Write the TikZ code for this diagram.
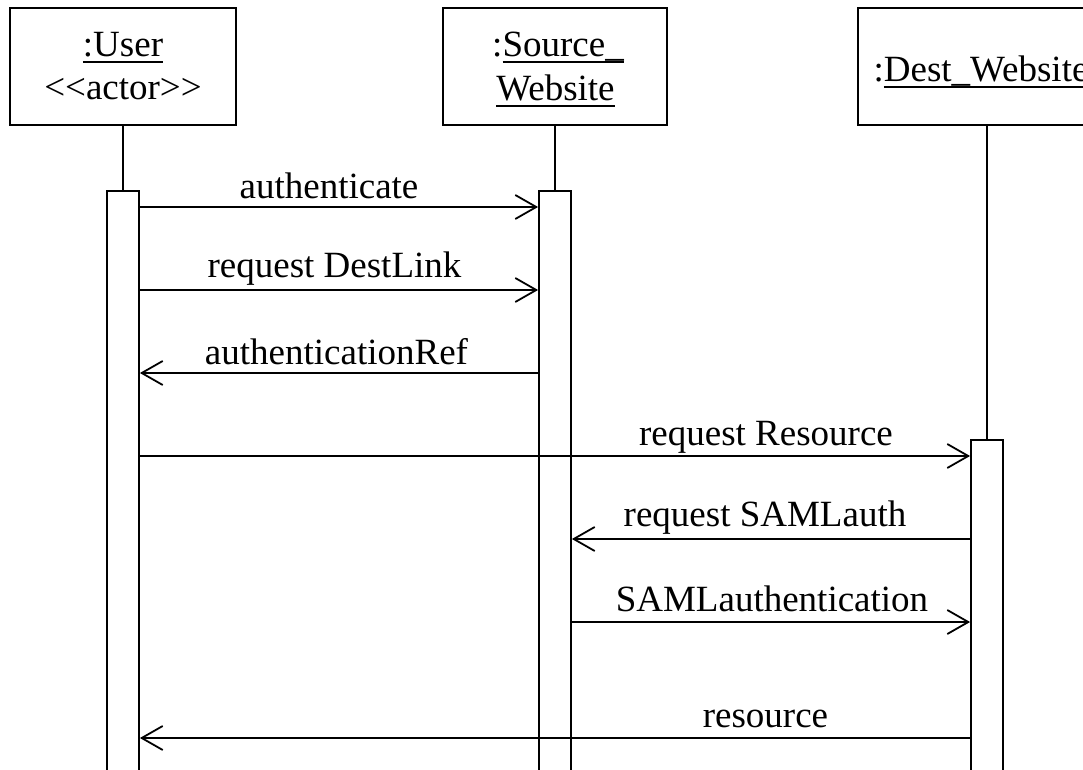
\documentclass[tikz,border=0pt]{standalone}
\usepackage{fontspec}
\setmainfont{Liberation Serif}
\usetikzlibrary{arrows.meta}

% underline drawn as a fixed rule just under the baseline
\newlength\ulwd
\newcommand\ulc[1]{\settowidth\ulwd{#1}\rlap{\rule[-6pt]{\ulwd}{1.9pt}}#1}

\begin{document}
\begin{tikzpicture}[x=1pt,y=-1pt,
  every node/.style={font=\fontsize{37}{44}\selectfont, inner sep=0pt},
  lw/.style={line width=1.8pt},
  head/.style={draw, lw, minimum height=117pt},
  bar/.style={draw, lw, fill=white, minimum width=32pt, minimum height=640pt, anchor=north},
  life/.style={lw},
  msg/.style={lw, -{Straight Barb[length=21pt,width=24pt]}},
  lbl/.style={anchor=base}
]
\useasboundingbox (0,0) rectangle (1083,770);
\clip (0,0) rectangle (1083,770);

% object heads
\node[head, minimum width=226pt] (user) at (123,66.5) {};
\node[head, minimum width=224pt] (src)  at (555,66.5) {};
\node[head, minimum width=258pt] (dst)  at (987,66.5) {};

\node[lbl] (userName) at (123,57)  {\ulc{:User}};
\node[lbl] (userRole) at (123,100) {<\kern0pt<actor>\kern0pt>};
\node[lbl] (srcName)  at (558,57)  {:\ulc{Source\_}};
\node[lbl] (srcName2) at (555.5,101) {\ulc{Website}};
\node[lbl] (dstName)  at (981,82)  {:\ulc{Dest\_Website}};

% activation bars
\node[bar] (uact) at (123,190) {};
\node[bar] (sact) at (555,190) {};
\node[bar] (dact) at (987,439) {};

% lifelines
\draw[life] (user.south) -- (uact.north);
\draw[life] (src.south) -- (sact.north);
\draw[life] (dst.south) -- (dact.north);

% message rows
\coordinate (y1) at (0,207);
\coordinate (y2) at (0,290);
\coordinate (y3) at (0,373);
\coordinate (y4) at (0,456);
\coordinate (y5) at (0,539);
\coordinate (y6) at (0,622);
\coordinate (y7) at (0,738);

\draw[msg] (uact.east |- y1) -- (sact.west |- y1);
\draw[msg] (uact.east |- y2) -- (sact.west |- y2);
\draw[msg] (sact.west |- y3) -- (uact.east |- y3);
\draw[msg] (uact.east |- y4) -- (dact.west |- y4);
\draw[msg] (dact.west |- y5) -- (sact.east |- y5);
\draw[msg] (sact.east |- y6) -- (dact.west |- y6);
\draw[msg] (dact.west |- y7) -- (uact.east |- y7);

% message labels
\node[lbl] (l1) at (329,198)   {authenticate};
\node[lbl] (l2) at (334.5,277) {request DestLink};
\node[lbl] (l3) at (336.5,364) {authenticationRef};
\node[lbl] (l4) at (766,445)   {request Resource};
\node[lbl] (l5) at (765,526)   {request SAMLauth};
\node[lbl] (l6) at (772,611)   {SAMLauthentication};
\node[lbl] (l7) at (765.5,727) {resource};
\end{tikzpicture}
\end{document}
